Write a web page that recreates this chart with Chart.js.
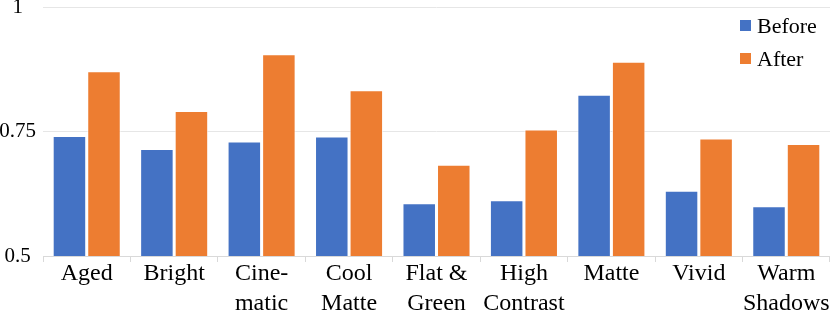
<!DOCTYPE html>
<html>
<head>
<meta charset="utf-8">
<script src="https://cdn.jsdelivr.net/npm/chart.js@4.4.1/dist/chart.umd.min.js"></script>
<style>
  html, body { margin: 0; padding: 0; background: #fff; }
  #wrap { width: 830px; height: 312px; overflow: hidden; }
</style>
</head>
<body>
<div id="wrap"><canvas id="chart" width="830" height="312"></canvas></div>
<script>
// Data
const categories = [
    ['Aged'], ['Bright'], ['Cine-', 'matic'], ['Cool', 'Matte'], ['Flat &', 'Green'],
    ['High', 'Contrast'], ['Matte'], ['Vivid'], ['Warm', 'Shadows']
];
const beforeValues = [0.741, 0.715, 0.730, 0.740, 0.606, 0.612, 0.824, 0.631, 0.600];
const afterValues = [0.871, 0.791, 0.905, 0.833, 0.683, 0.754, 0.890, 0.736, 0.725];
const seriesNames = ['Before', 'After'];
const yTicks = [0.5, 0.75, 1];

const FONT = '"Liberation Serif", "Times New Roman", serif';

// Legend drawn inside the plot, top right
const insideLegend = {
    id: 'insideLegend',
    afterDraw(chart) {
        const ctx = chart.ctx;
        const area = chart.chartArea;
        const x = area.right - 90;
        ctx.save();
        ctx.font = '22px ' + FONT;
        ctx.textBaseline = 'alphabetic';
        ctx.textAlign = 'left';
        chart.data.datasets.forEach((ds, i) => {
            const cy = 25.5 + i * 33;
            ctx.fillStyle = ds.backgroundColor;
            ctx.fillRect(x, cy - 5.5, 11, 11);
            ctx.fillStyle = '#000';
            ctx.fillText(ds.label, x + 17, cy + 7);
        });
        ctx.restore();
    }
};

new Chart(document.getElementById('chart'), {
    type: 'bar',
    data: {
        labels: categories,
        datasets: [
            {
                label: seriesNames[0],
                data: beforeValues,
                backgroundColor: '#4472C4',
                borderColor: 'rgba(255,255,255,0.7)',
                borderWidth: 1,
                barPercentage: 0.97,
                categoryPercentage: 0.79
            },
            {
                label: seriesNames[1],
                data: afterValues,
                backgroundColor: '#ED7D31',
                borderColor: 'rgba(255,255,255,0.7)',
                borderWidth: 1,
                barPercentage: 0.97,
                categoryPercentage: 0.79
            }
        ]
    },
    options: {
        responsive: false,
        animation: false,
        layout: { padding: { top: 7, right: 0, left: 0, bottom: 0 } },
        plugins: {
            legend: { display: false },
            tooltip: { enabled: false }
        },
        scales: {
            x: {
                grid: {
                    offset: true,
                    drawOnChartArea: false,
                    drawTicks: true,
                    tickLength: 6,
                    color: '#D9D9D9'
                },
                border: { color: '#D9D9D9', width: 1 },
                ticks: {
                    color: '#000',
                    padding: -3,
                    maxRotation: 0,
                    autoSkip: false,
                    font: { family: FONT, size: 24, lineHeight: 1.25 }
                },
                afterFit: scale => {
                    scale.height = 56;
                    scale.paddingLeft = 0;
                    scale.paddingRight = 0;
                }
            },
            y: {
                min: 0.5,
                max: 1,
                afterBuildTicks: scale => { scale.ticks = yTicks.map(v => ({ value: v })); },
                grid: { color: '#E6E6E6', drawTicks: false },
                border: { display: false },
                ticks: {
                    color: '#000',
                    padding: 7,
                    crossAlign: 'center',
                    callback: v => String(+v),
                    font: { family: FONT, size: 21, lineHeight: 0.7 }
                },
                afterFit: scale => {
                    scale.width = 43;
                    scale.paddingTop = 0;
                    scale.paddingBottom = 0;
                }
            }
        }
    },
    plugins: [insideLegend]
});
</script>
</body>
</html>
